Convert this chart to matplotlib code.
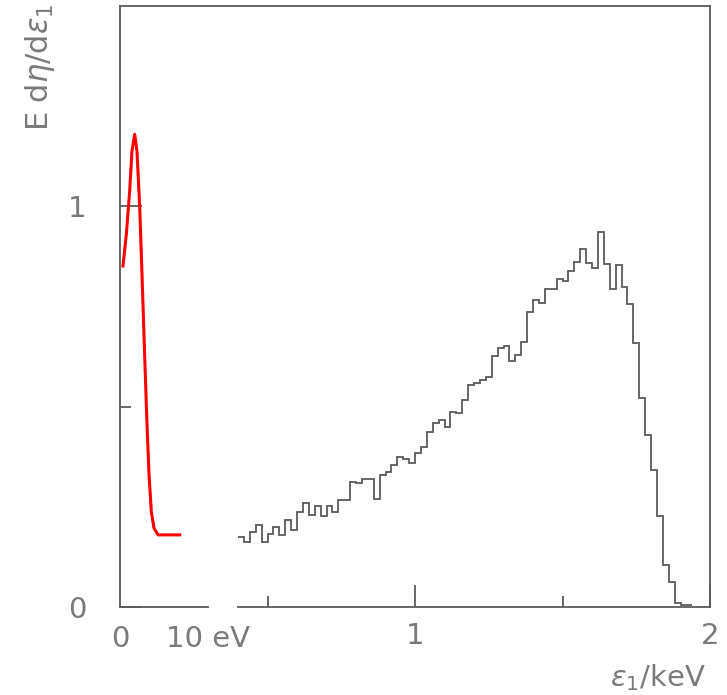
import numpy as np
import matplotlib
matplotlib.use('Agg')
import matplotlib.pyplot as plt

# histogram (keV part), bins of 0.02 keV starting at 0.40 keV
bin_start = 0.40
bin_width = 0.02
hist_values = [
    0.175, 0.163, 0.188, 0.205, 0.163, 0.183, 0.200, 0.180, 0.218, 0.193,
    0.238, 0.259, 0.230, 0.253, 0.226, 0.253, 0.238, 0.268, 0.268, 0.313,
    0.309, 0.320, 0.320, 0.270, 0.330, 0.338, 0.355, 0.374, 0.369, 0.359,
    0.384, 0.400, 0.437, 0.459, 0.466, 0.449, 0.486, 0.485, 0.517, 0.553,
    0.560, 0.566, 0.573, 0.626, 0.647, 0.651, 0.613, 0.630, 0.661, 0.737,
    0.766, 0.758, 0.794, 0.794, 0.819, 0.813, 0.838, 0.862, 0.894, 0.859,
    0.845, 0.937, 0.857, 0.793, 0.853, 0.798, 0.756, 0.658, 0.521, 0.430,
    0.343, 0.226, 0.105, 0.063, 0.009, 0.004, 0.004,
]

# red curve (eV part)
ev_x = [0.34, 0.72, 1.10, 1.36, 1.67, 1.93, 2.24, 2.50, 2.81, 3.07, 3.30, 3.56, 3.86, 4.32, 6.78]
ev_y = [0.851, 0.930, 1.038, 1.138, 1.180, 1.138, 0.998, 0.830, 0.623, 0.455, 0.330, 0.238, 0.197, 0.180, 0.180]

grey_txt = '#7a7a7a'
grey_line = '#5a5a5a'
fs = 21

W, H = 727, 695
fig = plt.figure(figsize=(W / 100, H / 100), dpi=100)

# axes box in pixels
x0, x1, y_top, y_bot = 120, 710, 6, 607
pos = [x0 / W, 1 - y_bot / H, (x1 - x0) / W, (y_bot - y_top) / H]
ax = fig.add_axes(pos)

edges = bin_start + bin_width * np.arange(len(hist_values) + 1)
ax.stairs(hist_values, edges, baseline=None, color=grey_line, linewidth=1.3)

ax.set_xlim(0, 2)
ax.set_ylim(0, 1.5)
for s in ax.spines.values():
    s.set_color(grey_line)
    s.set_linewidth(1.3)
ax.spines['bottom'].set_bounds(0.4, 2)

ax.set_xticks([1, 2])
ax.set_xticklabels(['1', '2'])
ax.set_xticks([0.5, 1.5], minor=True)
ax.set_yticks([0, 1])
ax.set_yticklabels(['0', '1'])
ax.set_yticks([0.5], minor=True)
ax.tick_params(axis='both', which='both', direction='in', color=grey_line, width=1.3,
               labelcolor=grey_txt, labelsize=fs)
ax.tick_params(axis='both', which='major', length=16)
ax.tick_params(axis='both', which='minor', length=8)
ax.tick_params(axis='x', which='both', pad=11)
ax.tick_params(axis='y', which='both', pad=24)

# eV part on the left
ev_w = 208 - x0
ax2 = fig.add_axes([x0 / W, pos[1], ev_w / W, pos[3]])
ax2.patch.set_alpha(0)
ax2.plot(ev_x, ev_y, color='red', linewidth=2.2, clip_on=False)
ax2.set_xlim(0, 10)
ax2.set_ylim(0, 1.5)
for k in ['top', 'right', 'left']:
    ax2.spines[k].set_visible(False)
ax2.spines['bottom'].set_color(grey_line)
ax2.spines['bottom'].set_linewidth(1.3)
ax2.set_xticks([0, 10])
ax2.set_xticklabels(['0', '10 eV'])
ax2.set_yticks([])
ax2.tick_params(axis='x', length=0, pad=13, labelcolor=grey_txt, labelsize=fs)

fig.text(40 / W, 1 - 4 / H, r'E d$\eta$/d$\varepsilon_1$', rotation=90,
         ha='center', va='top', color=grey_txt, fontsize=22)
fig.text(706 / W, 1 - 678 / H, r'$\varepsilon_1$/keV', ha='right', va='center',
         color=grey_txt, fontsize=fs)

fig.savefig('out.png', dpi=100)
